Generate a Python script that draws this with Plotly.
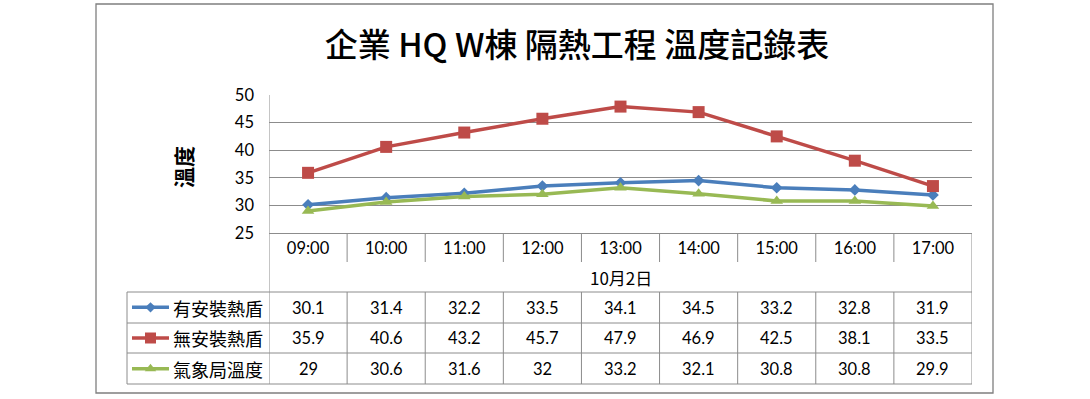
import plotly.graph_objects as go

W, H = 1090, 399

# ---- data ----
times = ["09:00", "10:00", "11:00", "12:00", "13:00", "14:00", "15:00", "16:00", "17:00"]
with_shield = [30.1, 31.4, 32.2, 33.5, 34.1, 34.5, 33.2, 32.8, 31.9]
without_shield = [35.9, 40.6, 43.2, 45.7, 47.9, 46.9, 42.5, 38.1, 33.5]
weather_bureau = [29, 30.6, 31.6, 32, 33.2, 32.1, 30.8, 30.8, 29.9]
series_names = ["有安裝熱盾", "無安裝熱盾", "氣象局溫度"]
date_label = "10月2日"
title_text = "企業 HQ W棟 隔熱工程 溫度記錄表"
y_title = "溫度"

# ---- styles ----
colors = ["#4A7EBB", "#BE4B48", "#98B954"]
symbols = ["diamond", "square", "triangle-up"]
msizes = [9, 12, 11]
grid = "#8C8C8C"
NUM_FONT = "Lato, 'Noto Sans CJK TC', sans-serif"
CJK_FONT = "'Noto Sans CJK TC', 'Noto Sans', sans-serif"

def px(x):
    return x / W

def py(y):
    return 1 - y / H

PL, PR, PT, PB = 269, 972, 95, 233  # plot area in pixels
ROWS = [292, 323, 353, 384]          # table row borders
LEG_L = 127

fig = go.Figure()

all_series = [with_shield, without_shield, weather_bureau]
for name, vals, c, s, m in zip(series_names, all_series, colors, symbols, msizes):
    fig.add_trace(go.Scatter(
        x=times, y=vals, name=name, mode="lines+markers",
        line=dict(color=c, width=3.5),
        marker=dict(symbol=s, size=m, color=c, line=dict(width=0)),
        showlegend=False, cliponaxis=False,
    ))

# legend keys inside the table (own small axes)
for i, (c, s, m) in enumerate(zip(colors, symbols, msizes)):
    fig.add_trace(go.Scatter(
        x=[5, 42], y=[i + 0.5, i + 0.5], mode="lines",
        line=dict(color=c, width=3.5), xaxis="x2", yaxis="y2",
        showlegend=False, hoverinfo="skip",
    ))
    fig.add_trace(go.Scatter(
        x=[23.5], y=[i + 0.5], mode="markers",
        marker=dict(symbol=s, size=m - 1, color=c, line=dict(width=0)),
        xaxis="x2", yaxis="y2", showlegend=False, hoverinfo="skip",
    ))

shapes = []
line_style = dict(color=grid, width=1)
# outer frame
shapes.append(dict(type="rect", xref="paper", yref="paper",
                   x0=px(96), x1=px(993), y0=py(393), y1=py(4),
                   line=dict(color="#7F7F7F", width=1.3)))
# left axis line continuing through table
shapes.append(dict(type="line", xref="x", yref="paper", x0=-0.5, x1=-0.5,
                   y0=py(ROWS[-1]), y1=py(PT), line=line_style))
# right edge of the category/table area
shapes.append(dict(type="line", xref="x", yref="paper", x0=8.5, x1=8.5,
                   y0=py(ROWS[-1]), y1=py(PB), line=line_style))
# category separators (label row and table rows)
for k in range(len(times) - 1):
    xb = k + 0.5
    shapes.append(dict(type="line", xref="x", yref="paper", x0=xb, x1=xb,
                       y0=py(262), y1=py(PB), line=line_style))
    shapes.append(dict(type="line", xref="x", yref="paper", x0=xb, x1=xb,
                       y0=py(ROWS[-1]), y1=py(ROWS[0]), line=line_style))
# table horizontal lines
for r in ROWS:
    shapes.append(dict(type="line", xref="paper", yref="paper",
                       x0=px(LEG_L), x1=px(PR), y0=py(r), y1=py(r), line=line_style))
# legend column left border
shapes.append(dict(type="line", xref="paper", yref="paper", x0=px(LEG_L), x1=px(LEG_L),
                   y0=py(ROWS[-1]), y1=py(ROWS[0]), line=line_style))

annotations = []
# table values
for i, vals in enumerate(all_series):
    yc = py((ROWS[i] + ROWS[i + 1]) / 2)
    for t, v in zip(times, vals):
        annotations.append(dict(x=t, xref="x", y=yc, yref="paper",
                                xanchor="center", yanchor="middle",
                                text=f"{v:g}", showarrow=False,
                                font=dict(family=NUM_FONT, size=16.5, color="#000")))
    annotations.append(dict(x=px(171), xref="paper", y=yc, yref="paper",
                            text=series_names[i], showarrow=False,
                            xanchor="left", yanchor="middle",
                            font=dict(family=CJK_FONT, size=18, color="#000")))
# date label
annotations.append(dict(x=px((PL + PR) / 2), xref="paper", y=py(277), yref="paper",
                        xanchor="center", yanchor="middle",
                        text=date_label, showarrow=False,
                        font=dict(family=CJK_FONT, size=17, color="#000")))
# y title
annotations.append(dict(x=px(183), xref="paper", y=py(167), yref="paper",
                        xanchor="center", yanchor="middle",
                        text=f"<b>{y_title}</b>", showarrow=False, textangle=-90,
                        font=dict(family=CJK_FONT, size=21, color="#000")))

fig.update_layout(
    width=W, height=H,
    margin=dict(l=0, r=0, t=0, b=0),
    paper_bgcolor="white", plot_bgcolor="white",
    title=dict(text=title_text, x=px(577), xref="paper", xanchor="center",
               y=py(45), yref="paper", yanchor="middle",
               font=dict(family=CJK_FONT, size=33, color="#000", weight=500)),
    xaxis=dict(domain=[px(PL), px(PR)], type="category", range=[-0.5, 8.5],
               showgrid=False, zeroline=False, showline=True, linecolor=grid,
               linewidth=1, ticks="", ticklabelstandoff=0,
               tickfont=dict(family=NUM_FONT, size=16.5, color="#000"),
               automargin=False, fixedrange=True),
    yaxis=dict(domain=[py(PB), py(PT)], range=[25, 50], dtick=5,
               showgrid=True, gridcolor=grid, gridwidth=1, zeroline=False,
               showline=False, ticks="", ticklabelstandoff=14,
               tickfont=dict(family=NUM_FONT, size=16.5, color="#000"),
               automargin=False, fixedrange=True),
    xaxis2=dict(domain=[px(LEG_L), px(PL)], range=[0, PL - LEG_L], visible=False,
                anchor="y2", fixedrange=True),
    yaxis2=dict(domain=[py(ROWS[-1]), py(ROWS[0])], range=[3, 0], visible=False,
                anchor="x2", fixedrange=True),
    shapes=shapes,
    annotations=annotations,
)

fig.write_html("out.html",
               config={"displayModeBar": False},
               post_script="document.body.style.margin='0';document.body.style.overflow='hidden';")
